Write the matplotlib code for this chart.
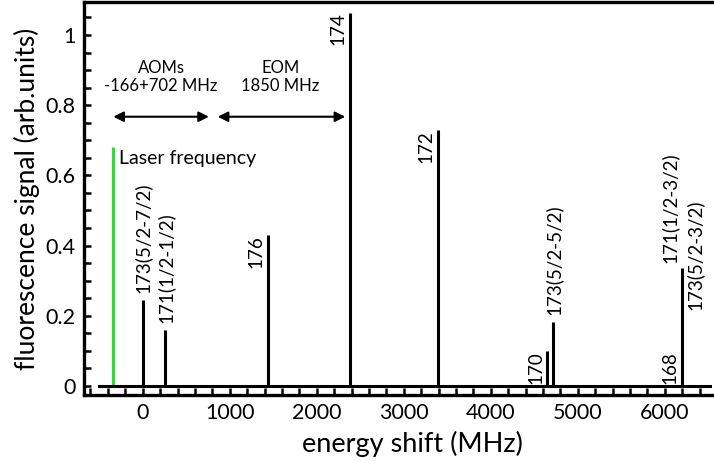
import numpy as np
import matplotlib.pyplot as plt
from matplotlib.ticker import MultipleLocator, FuncFormatter

plt.rcParams['font.family'] = ['Lato', 'DejaVu Sans']

# line positions (MHz) and peak heights (arb. units)
shift = [0, 260, 1443, 2381, 3396, 4652, 4717, 6195]
signal = [0.245, 0.16, 0.43, 1.064, 0.729, 0.10, 0.183, 0.335]

laser_shift = -345
laser_signal = 0.68

# labels placed above the line top
above_labels = [(0, 0.245, '173(5/2-7/2)'), (260, 0.16, '171(1/2-1/2)'),
                (4717, 0.183, '173(5/2-5/2)')]
# labels placed left of the line, top-aligned
side_labels = [(1443, 0.43, '176'), (2381, 1.064, '174'), (3396, 0.729, '172'),
               (4652, 0.10, '170'), (6195, 0.10, '168')]

fs = 13.5

fig = plt.figure(figsize=(7.14, 4.61), dpi=100)
ax = fig.add_axes([0.1176, 0.1432, 0.8866, 0.8525])

ax.vlines(shift, 0, signal, color='black', lw=2.2)
ax.vlines(laser_shift, 0, laser_signal, color='#2ee02e', lw=2.2)
ax.plot([-500, 6520], [0, 0], color='black', lw=2.2)

for x, y, s in above_labels:
    ax.text(x + 5, y + 0.02, s, rotation=90, ha='center', va='bottom', fontsize=fs)
for x, y, s in side_labels:
    ax.text(x - 40, y, s, rotation=90, ha='right', va='top', fontsize=fs)
ax.text(6195 - 40, 0.35, '171(1/2-3/2)', rotation=90, ha='right', va='bottom', fontsize=fs)
ax.text(6195 + 40, 0.215, '173(5/2-3/2)', rotation=90, ha='left', va='bottom', fontsize=fs)

ax.text(-270, 0.648, 'Laser frequency', ha='left', va='center', fontsize=14)

# frequency offsets from AOMs and EOM
ax.annotate('', xy=(-370, 0.767), xytext=(793, 0.767),
            arrowprops=dict(arrowstyle='<|-|>', color='black', lw=1.5, mutation_scale=15))
ax.annotate('', xy=(830, 0.767), xytext=(2360, 0.767),
            arrowprops=dict(arrowstyle='<|-|>', color='black', lw=1.5, mutation_scale=15))
ax.text(210, 0.88, 'AOMs\n-166+702 MHz', ha='center', va='center', fontsize=12, linespacing=1.2)
ax.text(1580, 0.88, 'EOM\n1850 MHz', ha='center', va='center', fontsize=12, linespacing=1.2)

ax.set_xlim(-675, 6600)
ax.set_ylim(-0.026, 1.094)

ax.xaxis.set_major_locator(MultipleLocator(1000))
ax.xaxis.set_minor_locator(MultipleLocator(200))
ax.yaxis.set_major_locator(MultipleLocator(0.2))
ax.yaxis.set_minor_locator(MultipleLocator(0.05))
ax.yaxis.set_major_formatter(FuncFormatter(lambda v, p: '%g' % round(v, 2)))
ax.set_xticks([0, 1000, 2000, 3000, 4000, 5000, 6000])

ax.tick_params(which='both', direction='in', length=5, width=1.8, labelsize=15.5)
ax.tick_params(axis='x', pad=6)
ax.tick_params(axis='y', pad=6)
for sp in ax.spines.values():
    sp.set_linewidth(2.4)

ax.set_xlabel('energy shift (MHz)', fontsize=19.5)
ax.xaxis.set_label_coords(0.519, -0.092)
ax.set_ylabel('fluorescence signal (arb.units)', fontsize=19, labelpad=4)

fig.savefig('out.png', dpi=100)
